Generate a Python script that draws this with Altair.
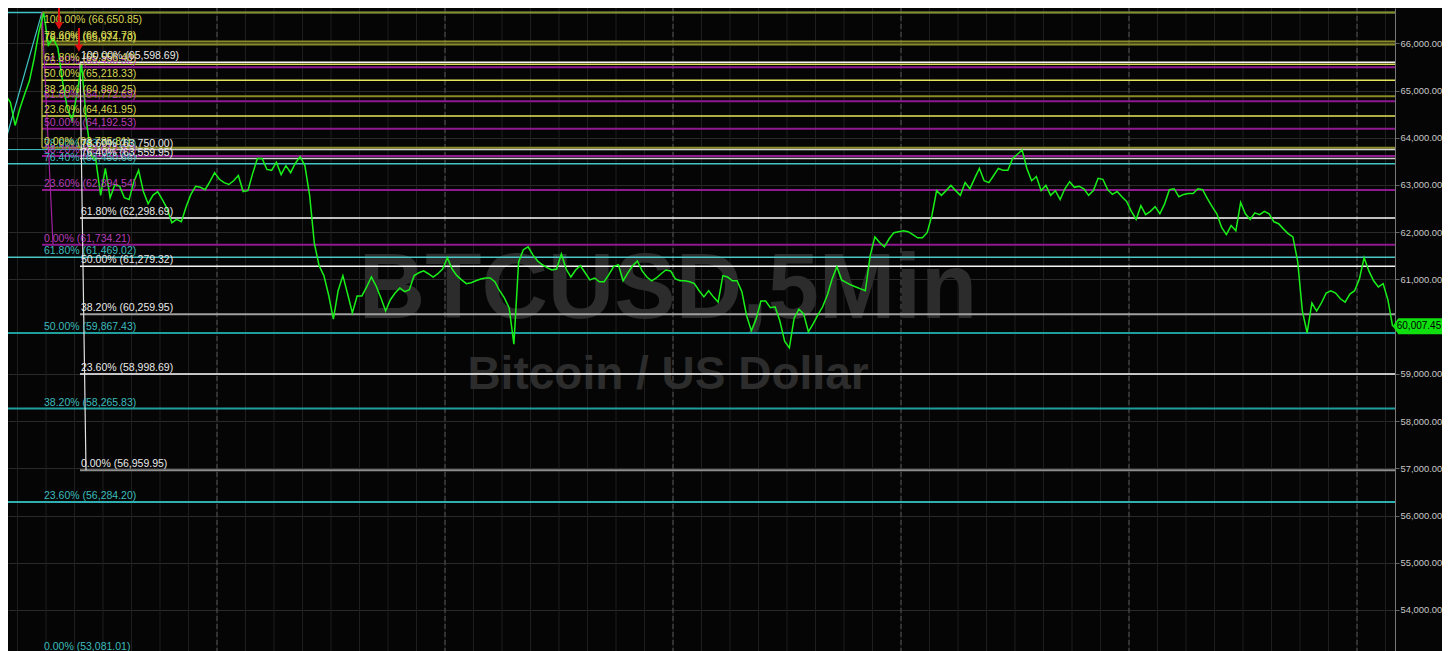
import altair as alt
import pandas as pd

# ---------------- layout / scales ----------------
W, H = 1387, 643
RIGHT_PAD = 47
X_DOMAIN = [-22.0, 124.0]           # hours relative to first day separator
Y_DOMAIN = [53130.5, 66747.6]

# ---------------- price series (30-min samples) ----------------
price_start = -22.75
price_step = 0.5
prices = [
    65010, 64900, 64750, 64260, 64620, 64920, 65200, 65670, 66240, 66650.85,
    65960, 66110, 65900, 65180, 64620, 64370, 64920, 65540, 64350, 63630,
    63520, 62780, 63350, 62730, 63010, 62970, 62730, 62690, 63070, 63310,
    62860, 62600, 62780, 62860, 62690, 62500, 62200, 62270, 62220, 62540,
    62800, 62970, 62950, 62900, 63070, 63260, 63120, 63050, 63010, 63090,
    63200, 62860, 62880, 63240, 63560, 63560, 63330, 63310, 63480, 63220,
    63410, 63260, 63460, 63600, 63410, 62780, 61760, 61290, 61080, 60670,
    60160, 60760, 61080, 60690, 60290, 60650, 60650, 60840, 61050, 60860,
    60610, 60330, 60570, 60710, 60820, 60740, 60780, 61080, 61140, 61180,
    61120, 61050, 61120, 61220, 61460, 61220, 61080, 60990, 60910, 60930,
    60970, 61010, 61030, 61030, 60950, 60760, 60610, 60400, 59630, 61370,
    61630, 61690, 61520, 61390, 61310, 61250, 61200, 61220, 61540, 61220,
    61050, 61200, 61290, 61140, 60990, 61030, 60950, 60950, 61100, 61270,
    61310, 60970, 61140, 61290, 61390, 61180, 61050, 60970, 61030, 61120,
    61200, 61180, 61010, 60970, 60970, 60950, 60910, 60760, 60630, 60760,
    60630, 60520, 61080, 61050, 60970, 60970, 60740, 60230, 59910, 60160,
    60540, 60540, 60400, 60420, 60120, 59690, 59550, 60180, 60370, 60270,
    59890, 60060, 60250, 60420, 60670, 61010, 61270, 60990, 60930, 60880,
    60840, 60800, 60760, 61500, 61900, 61780, 61690, 61860, 61990, 62010,
    62030, 62010, 61950, 61880, 61880, 61990, 62350, 62880, 62780, 62880,
    62990, 62880, 62780, 63050, 62920, 63140, 63350, 63090, 63050, 63200,
    63350, 63310, 63310, 63560, 63650, 63740, 63350, 63090, 63180, 62880,
    62990, 62780, 62880, 62690, 62920, 63070, 62950, 62970, 62920, 62780,
    62880, 63140, 63120, 62900, 62800, 62860, 62750, 62650, 62440, 62270,
    62560, 62370, 62440, 62540, 62390, 62600, 62900, 62920, 62750, 62800,
    62820, 62820, 62920, 62900, 62710, 62540, 62390, 62100, 61950, 62140,
    62030, 62630, 62390, 62270, 62410, 62370, 62440, 62390, 62220, 62180,
    62070, 61970, 61900, 61390, 60330, 59870, 60500, 60330, 60500, 60710,
    60760, 60710, 60590, 60520, 60690, 60760, 61010, 61460, 61180, 60970,
    60840, 60910, 60570, 60007.45,
]
last_price = 60007.45

# ---------------- Fibonacci sets ----------------
yellow_pct = ["100.00%", "78.60%", "76.40%", "61.80%", "50.00%", "38.20%", "23.60%", "0.00%"]
yellow_val = [66650.85, 66037.73, 65974.70, 65556.40, 65218.33, 64880.25, 64461.95, 63785.81]
yellow_col = ["#8a8a26", "#8a8a26", "#8a8a26", "#dada58", "#e6e65a", "#8a8a26", "#e6e65a", "#8a8a26"]
yellow_w = [2, 2, 2, 1.5, 1.5, 2, 1.5, 2]

magenta_pct = ["76.40%", "61.80%", "50.00%", "38.20%", "23.60%", "0.00%"]
magenta_val = [65490.52, 64772.69, 64192.53, 63612.37, 62894.54, 61734.21]

white_pct = ["100.00%", "78.60%", "76.40%", "61.80%", "50.00%", "38.20%", "23.60%", "0.00%"]
white_val = [65598.69, 63750.00, 63559.95, 62298.69, 61279.32, 60259.95, 58998.69, 56959.95]
white_col = ["#f4f4f4", "#d0d0d0", "#d0d0d0", "#ffffff", "#f4f4f4", "#a0a0a0", "#ffffff", "#8e8e8e"]
white_w = [1.5, 1.5, 1.5, 1.5, 1.5, 2, 1.5, 2]

cyan_pct = ["100.00%", "78.60%", "76.40%", "61.80%", "50.00%", "38.20%", "23.60%", "0.00%"]
cyan_val = [66653.85, 63749.26, 63450.66, 61469.02, 59867.43, 58265.83, 56284.20, 53081.01]
cyan_col = ["#40c4c4", "#40c4c4", "#40c4c4", "#4cc8c8", "#1f9e9e", "#1f9e9e", "#2fb0b0", "#2fb0b0"]
cyan_w = [1.5, 1, 1.5, 1.5, 2, 2, 2, 2]
cyan_labeled = [False, True, True, True, True, True, True, True]

fib_start = {"yellow": -18.42, "magenta": -18.42, "white": -14.42, "cyan": -23.0}
label_t = {"yellow": -18.21, "magenta": -18.21, "white": -14.32, "cyan": -18.21}
label_col = {"yellow": "#d8d852", "magenta": "#b83cb8", "white": "#e8e8e8", "cyan": "#3cbcbc"}

# anchor / diagonal lines of the Fibonacci tools
diag_t = [-23.0, -18.42, -18.42, -18.42, -18.42, -17.26, -14.42, -13.79]
diag_p = [63413, 66653.85, 66650.85, 63785.81, 66650.85, 61734.21, 65598.69, 56959.95]
diag_g = ["cyan", "cyan", "yellow", "yellow", "magenta", "magenta", "white", "white"]
diag_colors = {"cyan": "#40c4c4", "yellow": "#c8c850", "magenta": "#a020a0", "white": "#e0e0e0"}

# red signal arrows
arrow_t = [-16.63, -14.53]
arrow_top = [66835, 66325]
arrow_tip = [66410, 65960]
arrow_head = [66367, 65900]

# grid
y_ticks = [54000, 55000, 56000, 57000, 58000, 59000, 61000, 62000, 63000, 64000, 65000, 66000]
minor_hours = list(range(-21, 124, 3))
day_hours = [0, 24, 48, 72, 96, 120]

# ---------------- data frames ----------------
price_df = pd.DataFrame({"t": [price_start + price_step * i for i in range(len(prices))],
                         "price": prices})

rows, labs = [], []
def add_set(name, pcts, vals, cols, widths, labeled=None):
    for k, (p, v) in enumerate(zip(pcts, vals)):
        rows.append({"t": fib_start[name], "t2": X_DOMAIN[1], "price": v,
                     "color": cols[k], "w": widths[k], "set": name})
        if labeled is None or labeled[k]:
            labs.append({"t": label_t[name], "price": v, "color": label_col[name],
                         "text": f"{p} ({v:,.2f})",
                         "pos": "below" if v > 66500 else "above"})

add_set("cyan", cyan_pct, cyan_val, cyan_col, cyan_w, cyan_labeled)
add_set("magenta", magenta_pct, magenta_val, ["#8f1a8f"] * len(magenta_val), [2] * len(magenta_val))
add_set("yellow", yellow_pct, yellow_val, yellow_col, yellow_w)
add_set("white", white_pct, white_val, white_col, white_w)
fib_df = pd.DataFrame(rows)
lab_df = pd.DataFrame(labs)

diag_df = pd.DataFrame({"t": diag_t, "price": diag_p, "grp": diag_g,
                        "color": [diag_colors[g] for g in diag_g]})
arrow_df = pd.DataFrame({"t": arrow_t, "price": arrow_top, "tip": arrow_tip, "head": arrow_head})
minor_df = pd.DataFrame({"t": minor_hours})
day_df = pd.DataFrame({"t": day_hours})
tag_df = pd.DataFrame({"price": [last_price], "text": [f"{last_price:,.2f}"]})
wm_df = pd.DataFrame({"a": [0]})

# ---------------- encodings ----------------
xs = alt.Scale(domain=X_DOMAIN, nice=False, zero=False)
ys = alt.Scale(domain=Y_DOMAIN, nice=False, zero=False)
yaxis = alt.Axis(orient="right", values=y_ticks, format=",.2f", title=None,
                 labelColor="#c8c8c8", labelFont="Liberation Sans", labelFontSize=9.4,
                 labelPadding=1, tickColor="#666666", tickSize=4, domainColor="#777777",
                 grid=True, gridColor="#2a2a2a", gridWidth=1)

def X(f="t"):
    return alt.X(f"{f}:Q", scale=xs, axis=None)

def Y(f="price"):
    return alt.Y(f"{f}:Q", scale=ys, axis=yaxis)

minor = alt.Chart(minor_df).mark_rule(color="#1e1e1e", strokeWidth=1).encode(x=X())
days = alt.Chart(day_df).mark_rule(color="#555555", strokeWidth=1, strokeDash=[5, 3]).encode(x=X())

wm1 = alt.Chart(wm_df).mark_text(text="BTCUSD,5Min", font="Liberation Sans", fontWeight="bold",
                                 fontSize=92, color="#2c2c2c", align="center",
                                 baseline="alphabetic").encode(x=alt.value(660), y=alt.value(310))
wm2 = alt.Chart(wm_df).mark_text(text="Bitcoin / US Dollar", font="Liberation Sans", fontWeight="bold",
                                 fontSize=46, color="#2c2c2c", align="center",
                                 baseline="alphabetic").encode(x=alt.value(660), y=alt.value(381))

fib_lines = alt.Chart(fib_df).mark_rule(clip=True).encode(
    x=X(), x2="t2:Q", y=Y(),
    color=alt.Color("color:N", scale=None),
    strokeWidth=alt.StrokeWidth("w:Q", scale=None))

diag = alt.Chart(diag_df).mark_line(clip=True, strokeWidth=1.2).encode(
    x=X(), y=Y(), detail="grp:N", color=alt.Color("color:N", scale=None))

green = alt.Chart(price_df).mark_line(color="#19f019", strokeWidth=1.5, clip=True).encode(x=X(), y=Y())

labels_above = alt.Chart(lab_df).transform_filter(alt.datum.pos == "above").mark_text(
    font="Liberation Sans", fontSize=10.5, align="left", baseline="alphabetic", dy=-3).encode(
    x=X(), y=Y(), text="text:N", color=alt.Color("color:N", scale=None))
labels_below = alt.Chart(lab_df).transform_filter(alt.datum.pos == "below").mark_text(
    font="Liberation Sans", fontSize=10.5, align="left", baseline="top", dy=2).encode(
    x=X(), y=Y(), text="text:N", color=alt.Color("color:N", scale=None))

shafts = alt.Chart(arrow_df).mark_rule(color="#e01010", strokeWidth=2).encode(x=X(), y=Y(), y2="tip:Q")
heads = alt.Chart(arrow_df).mark_point(shape="triangle-down", filled=True, size=70,
                                       color="#e01010", opacity=1).encode(x=X(), y=Y("head"))

tag_shape = "M-1.12,0 L-0.88,-0.34 L1,-0.34 L1,0.34 L-0.88,0.34 Z"
tag = alt.Chart(tag_df).mark_point(shape=tag_shape, size=2209, filled=True,
                                   color="#10e010", opacity=1).encode(x=alt.value(W + 24), y=Y())
tag_text = alt.Chart(tag_df).mark_text(font="Liberation Sans", fontSize=10, color="#000000",
                                       align="center", baseline="middle").encode(
    x=alt.value(W + 24), y=Y(), text="text:N")

chart = alt.layer(minor, days, wm1, wm2, fib_lines, diag, green, labels_above, labels_below,
                  shafts, heads, tag, tag_text).properties(
    width=W, height=H,
    autosize=alt.AutoSizeParams(type="none"),
    padding={"left": 0, "top": 0, "right": RIGHT_PAD, "bottom": 0},
    background="#050505"
).configure_view(stroke=None)

chart.save("out.html", embed_options={"renderer": "svg", "actions": False})
